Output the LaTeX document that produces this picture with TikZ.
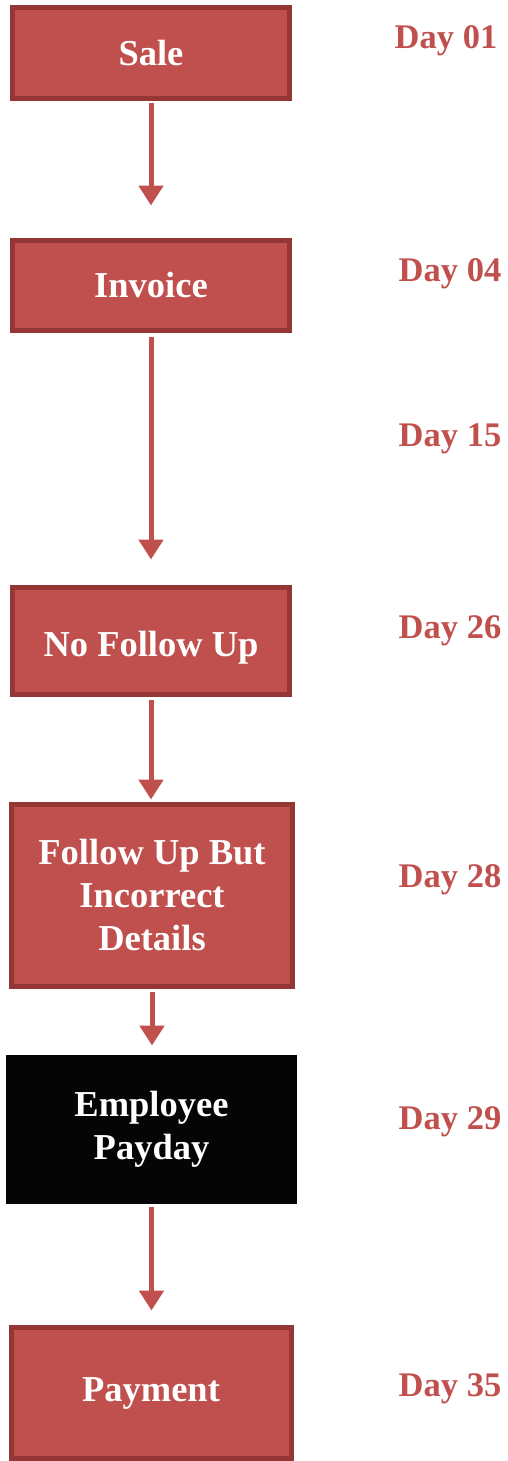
\documentclass[tikz,border=0pt]{standalone}
\usepackage{fontspec}
\setmainfont{Liberation Serif}
\usetikzlibrary{arrows.meta}
\definecolor{boxred}{HTML}{C0504D}
\definecolor{edgered}{HTML}{943634}
\definecolor{nightbox}{HTML}{050505}

\begin{document}
\begin{tikzpicture}[x=1pt,y=-1pt,
    stepbox/.style={draw=edgered,line width=5pt,fill=boxred,text=white,
      font=\fontsize{36.5}{43}\selectfont\bfseries,align=center,inner sep=0pt},
    flow/.style={draw=boxred,line width=5pt,-{Triangle[width=24pt,length=20pt]}},
    daylabel/.style={text=boxred,font=\fontsize{34.5}{40}\selectfont\bfseries,anchor=base}]
    \useasboundingbox (0,0) rectangle (507,1461);
    \node[stepbox,minimum width=277pt,minimum height=91pt] (sale) at (151,53) {Sale};
    \node[stepbox,minimum width=277pt,minimum height=90pt] (invoice) at (151,285.5) {Invoice};
    \node[stepbox,minimum width=277pt,minimum height=107pt,text height=39pt] (nofollow) at (151,641) {No Follow Up};
    \node[stepbox,minimum width=281pt,minimum height=182pt] (wrongdetails) at (152,895.5) {Follow Up But\\Incorrect\\Details};
    \node[stepbox,draw=none,fill=nightbox,minimum width=291pt,minimum height=149pt] (payday) at (151.5,1129.5) {Employee\\Payday};
    \node[stepbox,minimum width=280pt,minimum height=131pt] (payment) at (151,1393) {Payment};
    \draw[flow,shorten <=2.5pt,shorten >=32.5pt] (sale.south) -- (invoice.north);
    \draw[flow,shorten <=4pt,shorten >=25.5pt] (invoice.south) -- (nofollow.north);
    \draw[flow,shorten <=2.5pt,shorten >=2.5pt] (nofollow.south) -- (nofollow.south |- wrongdetails.north);
    \draw[flow,shorten <=2.5pt,shorten >=7pt] (wrongdetails.south) -- (wrongdetails.south |- payday.north);
    \draw[flow,shorten >=14.5pt] (payday.south) -- (payday.south |- payment.north);
    \node[daylabel] (d01) at (446,49) {Day 01};
    \node[daylabel] (d04) at (450,281) {Day 04};
    \node[daylabel] (d15) at (450,446) {Day 15};
    \node[daylabel] (d26) at (450,638) {Day 26};
    \node[daylabel] (d28) at (450,887) {Day 28};
    \node[daylabel] (d29) at (450,1129) {Day 29};
    \node[daylabel] (d35) at (450,1396) {Day 35};
\end{tikzpicture}
\end{document}
